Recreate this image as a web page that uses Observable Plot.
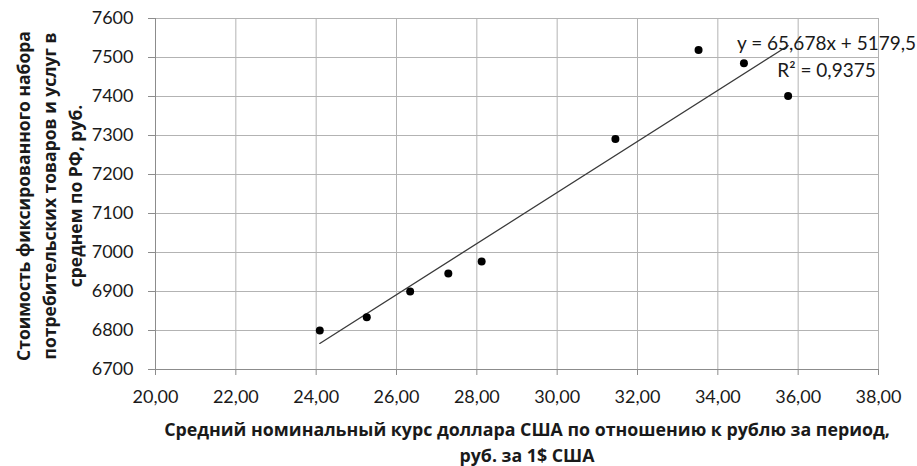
<!DOCTYPE html>
<html>
<head>
<meta charset="utf-8">
<script src="https://cdn.jsdelivr.net/npm/d3@7"></script>
<script src="https://cdn.jsdelivr.net/npm/@observablehq/plot@0.6"></script>
<style>
  html, body { margin: 0; padding: 0; background: #fff; }
  #chart svg { display: block; }
</style>
</head>
<body>
<div id="chart"></div>
<script>
// Average nominal USD/RUB rate for the period, rub. per 1 USD
const rate = [24.09, 25.26, 26.34, 27.29, 28.12, 31.45, 33.52, 34.65, 35.75];
// Cost of fixed basket of goods and services, average across RF, rub.
const cost = [6800, 6834, 6900, 6946, 6977, 7291, 7519, 7485, 7401];

const xTicks = [20, 22, 24, 26, 28, 30, 32, 34, 36, 38];
const yTicks = [6700, 6800, 6900, 7000, 7100, 7200, 7300, 7400, 7500, 7600];

const equationLabel = "y = 65,678x + 5179,5";
const r2Label = "R² = 0,9375";
const xTitle = "Средний номинальный курс доллара США по отношению к рублю за период,\nруб. за 1$ США";
const yTitle = "Стоимость фиксированного набора\nпотребительских товаров и услуг в\nсреднем по РФ, руб.";

const data = rate.map((r, i) => ({rate: r, cost: cost[i]}));
const fmtX = d => d3.format(".2f")(d).replace(".", ",");

const FONT = "Lato, 'Open Sans', sans-serif";
const TITLE_FONT = "'Open Sans', Lato, sans-serif";
const GRID = "#b3b3b3";
const AXIS = "#8c8c8c";

const chart = Plot.plot({
  width: 917,
  height: 466,
  marginLeft: 155,
  marginRight: 39,
  marginTop: 18,
  marginBottom: 97,
  style: {fontFamily: FONT, background: "#fff", color: "#1a1a1a"},
  x: {domain: [20, 38]},
  y: {domain: [6700, 7600]},
  marks: [
    Plot.gridX(xTicks, {stroke: GRID, strokeOpacity: 1}),
    Plot.gridY(yTicks, {stroke: GRID, strokeOpacity: 1}),
    Plot.ruleY([6700], {stroke: AXIS}),
    Plot.ruleX([20], {stroke: AXIS}),
    Plot.axisX(xTicks, {tickFormat: fmtX, tickSize: 6, tickPadding: 15, fontSize: 18, stroke: AXIS, label: null}),
    Plot.axisY(yTicks, {tickFormat: d => String(d), tickSize: 7, tickPadding: 15, fontSize: 18, stroke: AXIS, label: null}),
    Plot.linearRegressionY(data, {x: "rate", y: "cost", ci: 0, stroke: "#3a3a3a", strokeWidth: 1.3}),
    Plot.dot(data, {x: "rate", y: "cost", r: 4, fill: "black", stroke: null}),
    Plot.text([equationLabel], {frameAnchor: "top-right", text: d => d, dx: -52, dy: 25, textAnchor: "middle", lineAnchor: "middle", fontSize: 19, fill: "#1a1a1a"}),
    Plot.text([r2Label], {frameAnchor: "top-right", text: d => d, dx: -52, dy: 52, textAnchor: "middle", lineAnchor: "middle", fontSize: 19, fill: "#1a1a1a"}),
    Plot.text([xTitle], {frameAnchor: "bottom", text: d => d, dx: 10, dy: 71, textAnchor: "middle", lineAnchor: "middle", lineHeight: 1.45, fontSize: 17.8, fontWeight: "bold", fontFamily: TITLE_FONT, fill: "#1a1a1a"}),
    Plot.text([yTitle], {frameAnchor: "left", text: d => d, rotate: -90, dx: -108, dy: 2, textAnchor: "middle", lineAnchor: "middle", lineHeight: 1.5, fontSize: 17.5, fontWeight: "bold", fontFamily: TITLE_FONT, fill: "#1a1a1a"})
  ]
});

document.getElementById("chart").append(chart);
</script>
</body>
</html>
